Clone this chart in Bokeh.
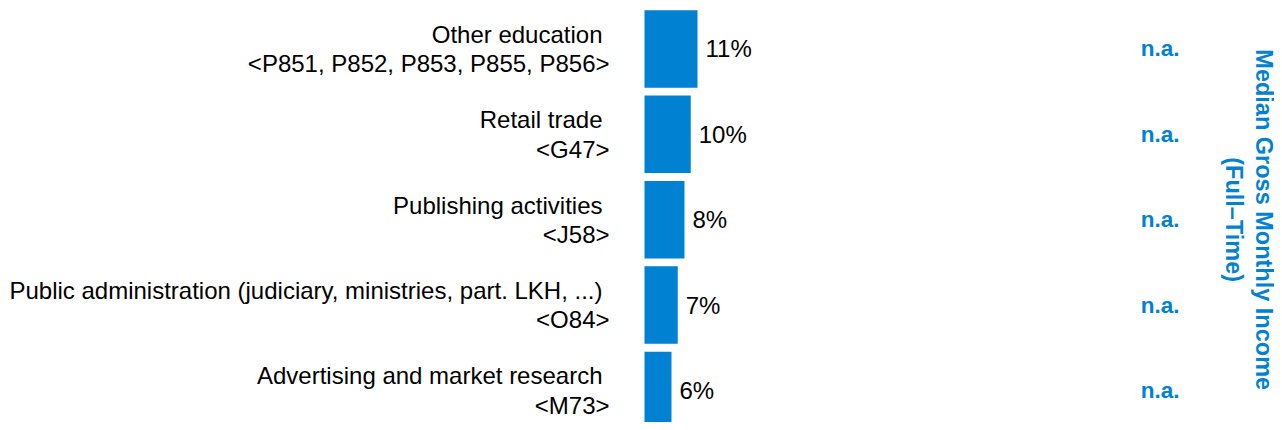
import math
from bokeh.plotting import figure
from bokeh.models import Range1d, ColumnDataSource
from bokeh.core.properties import value
from bokeh.embed import file_html
from bokeh.resources import INLINE

# ---- data ----
names = [
    "Other education",
    "Retail trade",
    "Publishing activities",
    "Public administration (judiciary, ministries, part. LKH, ...)",
    "Advertising and market research",
]
codes = ["<P851, P852, P853, P855, P856>", "<G47>", "<J58>", "<O84>", "<M73>"]
shares = [11.0, 9.6, 8.3, 6.9, 5.6]
income = ["n.a.", "n.a.", "n.a.", "n.a.", "n.a."]
title_lines = ["Median Gross Monthly Income", "(Full\u2013Time)"]

# ---- layout / style ----
BLUE = "#0081D1"
FONT = "Liberation Sans"
W, H = 1274, 422
X0 = 644            # pixel position of 0 %
PX_PER_PCT = 4.818
ROW_PX = 85.4
TOP_PX = 48.4
BAR_FRAC = 79 / 87

x_start = -X0 / PX_PER_PCT
x_end = (W - X0) / PX_PER_PCT
y_end = -TOP_PX / ROW_PX
y_start = y_end + H / ROW_PX

def px_to_x(px):
    return (px - X0) / PX_PER_PCT

idx = list(range(len(names)))
src = ColumnDataSource(dict(
    idx=idx, name=names, code=codes, share=shares,
    pct=[f"{v:.0f}%" for v in shares], income=income,
))

p = figure(width=W, height=H, x_range=Range1d(x_start, x_end),
           y_range=Range1d(y_start, y_end), output_backend="svg",
           toolbar_location=None, min_border=0,
           x_axis_location=None, y_axis_location=None)
p.grid.visible = False
p.outline_line_color = None
p.background_fill_color = "white"
p.border_fill_color = "white"

p.hbar(y="idx", left=0, right="share", height=BAR_FRAC, source=src,
       fill_color=BLUE, line_color=None)

p.text(x=0, y="idx", text="name", source=src, x_offset=-42, y_offset=-14.7,
       text_align="right", text_baseline="middle",
       text_font=value(FONT), text_font_size="24px", text_color="#000000")
p.text(x=0, y="idx", text="code", source=src, x_offset=-35, y_offset=14.8,
       text_align="right", text_baseline="middle",
       text_font=value(FONT), text_font_size="24px", text_color="#000000")

p.text(x="share", y="idx", text="pct", source=src, x_offset=8, y_offset=0,
       text_align="left", text_baseline="middle",
       text_font=value(FONT), text_font_size="24px", text_color="#000000")

p.text(x=px_to_x(1140.3), y="idx", text="income", source=src, y_offset=0,
       text_align="left", text_baseline="middle",
       text_font=value(FONT), text_font_size="22.5px", text_font_style="bold",
       text_color=BLUE)

mid = (len(names) - 1) / 2
p.text(x=[px_to_x(1263.5), px_to_x(1233)], y=[mid, mid], text=title_lines,
       angle=-math.pi / 2, text_align="center", text_baseline="middle",
       text_font=value(FONT), text_font_size="23.5px", text_font_style="bold",
       text_color=BLUE)

open("out.html", "w").write(file_html(p, INLINE))
